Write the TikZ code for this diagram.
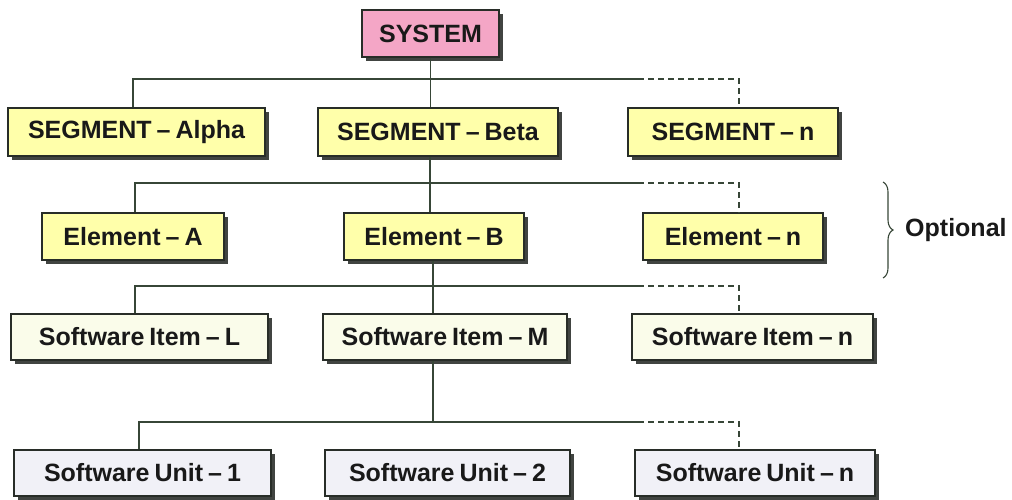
\documentclass[tikz,border=0pt]{standalone}
\usepackage{fontspec}
\setmainfont{Liberation Sans}
\usetikzlibrary{shadows,decorations.pathreplacing}
\definecolor{sysfill}{RGB}{244,166,198}
\definecolor{segfill}{RGB}{255,255,170}
\definecolor{itemfill}{RGB}{250,252,234}
\definecolor{unitfill}{RGB}{241,241,247}
\definecolor{bordc}{RGB}{40,45,40}
\definecolor{shadc}{RGB}{65,68,65}
\definecolor{linec}{RGB}{55,70,55}
\definecolor{txtc}{RGB}{25,25,25}
\newcommand{\boxfont}{\fontsize{25}{30}\selectfont\bfseries\spaceskip=5pt plus 1pt minus 1pt\relax}
\tikzset{
  box/.style={draw=bordc, line width=1.4pt, inner sep=0pt, rectangle,
    text=txtc, font=\boxfont,
    drop shadow={shadow xshift=4pt, shadow yshift=-4pt, fill=shadc, opacity=1}},
  sysbox/.style={box, fill=sysfill},
  segbox/.style={box, fill=segfill},
  itembox/.style={box, fill=itemfill},
  unitbox/.style={box, fill=unitfill},
  conn/.style={draw=linec, line width=1.1pt},
  dconn/.style={conn, dash pattern=on 6pt off 4pt},
}
\begin{document}
\begin{tikzpicture}[x=1pt,y=-1pt]
\useasboundingbox (0,0) rectangle (1012,500);
% nodes
\node[sysbox, minimum width=137pt, minimum height=47pt] (sys) at (430.5,33.5) {SYSTEM};
\node[segbox, minimum width=257pt, minimum height=48pt] (alpha) at (136.5,132) {SEGMENT -- Alpha};
\node[segbox, minimum width=240pt, minimum height=48pt] (beta) at (438,132) {SEGMENT -- Beta};
\node[segbox, minimum width=210pt, minimum height=48pt] (segn) at (733,132) {SEGMENT -- n};
\node[segbox, minimum width=182pt, minimum height=47pt] (ela) at (133,236.5) {Element -- A};
\node[segbox, minimum width=180pt, minimum height=47pt] (elb) at (434,236.5) {Element -- B};
\node[segbox, minimum width=180pt, minimum height=47pt] (eln) at (733,236.5) {Element -- n};
\node[itembox, minimum width=257pt, minimum height=46pt] (itl) at (139.5,337) {Software Item -- L};
\node[itembox, minimum width=244pt, minimum height=46pt] (itm) at (445,337) {Software Item -- M};
\node[itembox, minimum width=241pt, minimum height=46pt] (itn) at (752.5,337) {Software Item -- n};
\node[unitbox, minimum width=257pt, minimum height=46pt] (un1) at (142.5,473) {Software Unit -- 1};
\node[unitbox, minimum width=245pt, minimum height=46pt] (un2) at (447.5,473) {Software Unit -- 2};
\node[unitbox, minimum width=240pt, minimum height=46pt] (unn) at (755,473) {Software Unit -- n};
% bus coordinates (end of the solid part)
\coordinate (d1) at (638,79);
\coordinate (d2) at (638,183);
\coordinate (d3) at (638,286);
\coordinate (d4) at (638,422);
% level 1
\draw[conn] (sys.south) -- (sys.south |- beta.north);
\draw[conn] ([xshift=-3.5pt]alpha.north) |- (d1);
\draw[dconn] (d1) -| ([xshift=6pt]segn.north);
% level 2
\draw[conn] ([xshift=-8pt]beta.south) -- ([xshift=-8pt]beta.south |- elb.north);
\draw[conn] ([xshift=2pt]ela.north) |- (d2);
\draw[dconn] (d2) -| ([xshift=6pt]eln.north);
% level 3
\draw[conn] ([xshift=-1pt]elb.south) -- ([xshift=-1pt]elb.south |- itm.north);
\draw[conn] ([xshift=-4.5pt]itl.north) |- (d3);
\draw[dconn] (d3) -| ([xshift=-13.5pt]itn.north);
% level 4
\coordinate (m4) at ([xshift=-12pt]itm.south |- d4);
\draw[conn] ([xshift=-12pt]itm.south) -- (m4);
\draw[conn] ([xshift=-3.5pt]un1.north) |- (d4);
\draw[dconn] (d4) -| ([xshift=-16pt]unn.north);
% brace
\coordinate (bt) at (883,182);
\coordinate (bb) at (883,278);
\draw[draw=linec, line width=1.1pt, decorate, decoration={brace, amplitude=10pt}] (bt) -- (bb);
\node[anchor=west, text=txtc, font=\boxfont, inner sep=0pt] (opt) at (905,230) {Optional};
\end{tikzpicture}
\end{document}
